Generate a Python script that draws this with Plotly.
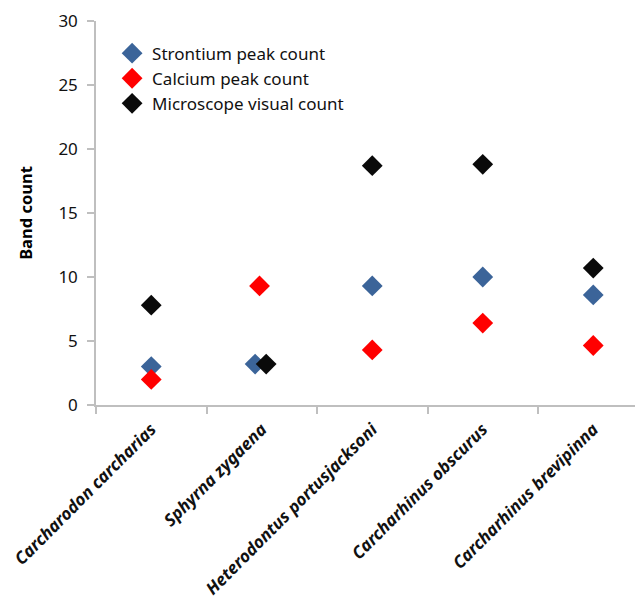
import plotly.graph_objects as go

species = ["Carcharodon carcharias", "Sphyrna zygaena", "Heterodontus portusjacksoni",
           "Carcharhinus obscurus", "Carcharhinus brevipinna"]
strontium = [3.0, 3.2, 9.3, 10.0, 8.6]
calcium = [2.0, 9.3, 4.3, 6.4, 4.65]
microscope = [7.8, 3.2, 18.7, 18.8, 10.7]
# small horizontal nudges used in the original to separate overlapping points
strontium_nudge = [0, -0.06, 0, 0, 0]
calcium_nudge = [0, -0.02, 0, 0, 0]
microscope_nudge = [0, 0.04, 0, 0, 0]
y_ticks = [0, 5, 10, 15, 20, 25, 30]

idx = list(range(len(species)))
FONT = "Noto Sans"
AXIS_COL = "#BFBFBF"

fig = go.Figure()
series = [
    ("Strontium peak count", strontium, strontium_nudge, "#3B6499"),
    ("Calcium peak count", calcium, calcium_nudge, "#FF0000"),
    ("Microscope visual count", microscope, microscope_nudge, "#0A0A0A"),
]
for name, vals, nudge, col in series:
    fig.add_trace(go.Scatter(
        x=[i + d for i, d in zip(idx, nudge)], y=vals, mode="markers", name=name,
        marker=dict(symbol="diamond", size=16, color=col, line=dict(width=0)),
        cliponaxis=False,
    ))

W, H = 643, 590
L, R, T, B = 88, 0, 13, 193
cat_px = 110.5

fig.update_layout(
    width=W, height=H,
    margin=dict(l=L, r=R, t=T, b=B, autoexpand=False),
    paper_bgcolor="white", plot_bgcolor="white",
    font=dict(family=FONT, size=17, color="#111111"),
    showlegend=True,
    legend=dict(
        x=0.029, y=0.962, xanchor="left", yanchor="top",
        bgcolor="rgba(0,0,0,0)", font=dict(family=FONT, size=17, color="#111111"),
        itemsizing="trace", tracegroupgap=0,
    ),
    xaxis=dict(
        range=[-0.5, -0.5 + (W - L - R) / cat_px], automargin=False,
        tickmode="array", tickvals=idx, ticktext=species,
        tickangle=-45, ticks="", ticklabelstandoff=6,
        tickfont=dict(family=FONT, size=17, color="#111111", weight="bold", style="italic"),
        showline=True, linecolor=AXIS_COL, linewidth=1.5,
        showgrid=False, zeroline=False,
        minor=dict(tickmode="array", tickvals=[i - 0.5 for i in idx],
                   ticks="outside", ticklen=7, tickcolor=AXIS_COL, tickwidth=1.5,
                   showgrid=False),
    ),
    yaxis=dict(
        range=[0, 30], tickmode="array", tickvals=y_ticks, automargin=False,
        ticks="outside", ticklen=7, tickcolor=AXIS_COL, tickwidth=1.5,
        ticklabelstandoff=6, ticklabeloverflow="allow",
        showline=True, linecolor=AXIS_COL, linewidth=1.5,
        showgrid=False, zeroline=False,
        tickfont=dict(family=FONT, size=17, color="#111111"),
        title=dict(text="Band count", standoff=22,
                   font=dict(family=FONT, size=16.5, color="#000000", weight="bold")),
    ),
)

fig.write_html("out.html")
